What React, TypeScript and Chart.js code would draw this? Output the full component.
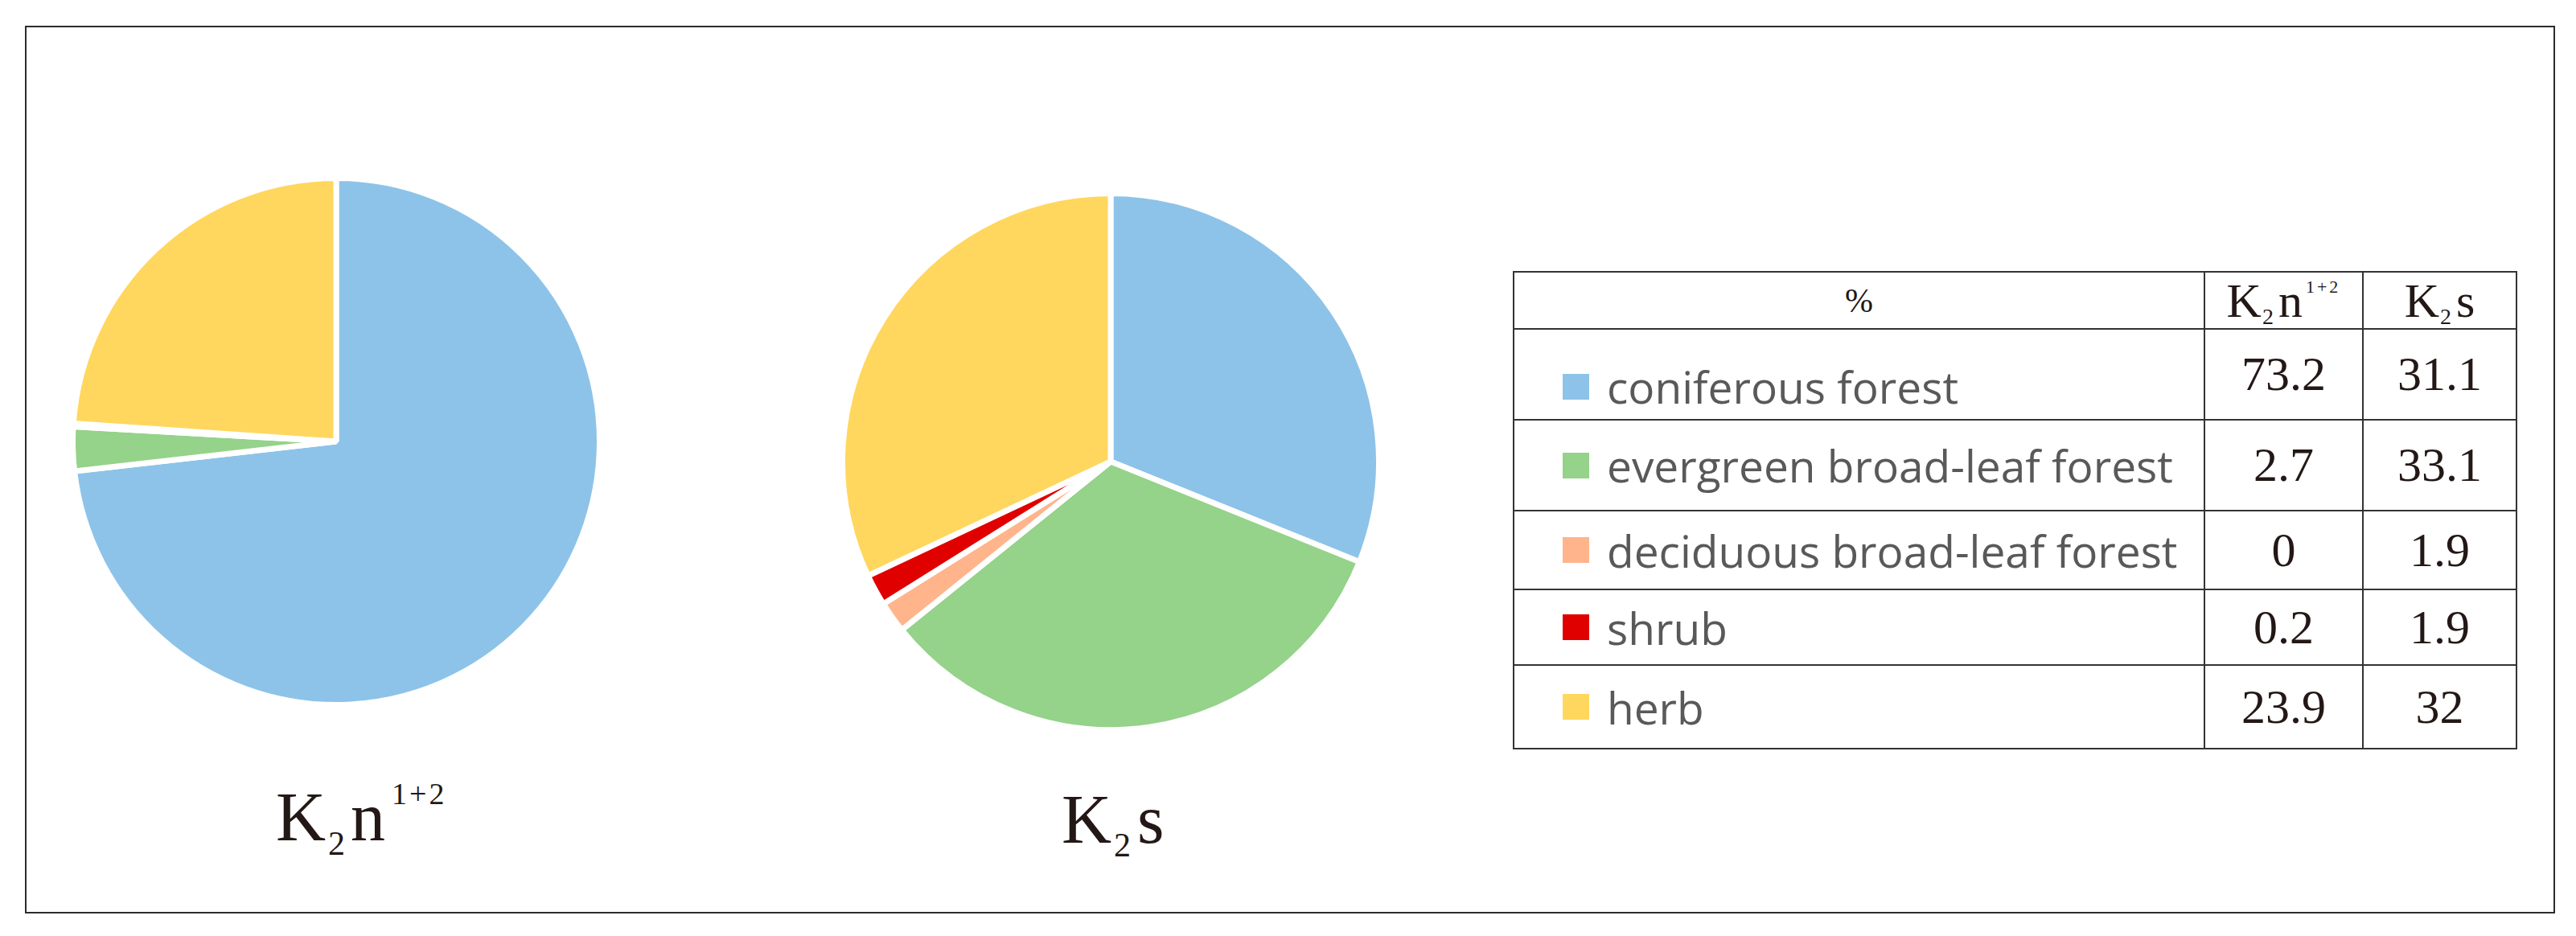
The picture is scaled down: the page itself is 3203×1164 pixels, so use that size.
import React, { useEffect, useRef } from "react";
import { Chart, registerables } from "chart.js";

Chart.register(...registerables);

const categories = [
  "coniferous forest",
  "evergreen broad-leaf forest",
  "deciduous broad-leaf forest",
  "shrub",
  "herb",
];
const k2nValues = [73.2, 2.7, 0, 0.2, 23.9];
const k2sValues = [31.1, 33.1, 1.9, 1.9, 32];
const sliceColors = ["#8DC3E8", "#95D28A", "#FFB48C", "#E00000", "#FFD75E"];

const serif = '"Liberation Serif", "Times New Roman", serif';
const sans = '"Open Sans", "Noto Sans", sans-serif';
const ink = "#231815";

function PieChart({ values, cx, cy, r }: { values: number[]; cx: number; cy: number; r: number }) {
  const ref = useRef<HTMLCanvasElement>(null);
  const size = Math.round(2 * r);
  useEffect(() => {
    const chart = new Chart(ref.current as HTMLCanvasElement, {
      type: "pie",
      data: {
        labels: categories,
        datasets: [
          {
            data: values,
            backgroundColor: sliceColors,
            borderColor: "#ffffff",
            borderWidth: 7,
          },
        ],
      },
      options: {
        responsive: false,
        animation: false,
        layout: { padding: 0 },
        plugins: { legend: { display: false }, tooltip: { enabled: false } },
      },
    });
    return () => chart.destroy();
  }, []);
  return (
    <canvas
      ref={ref}
      width={size}
      height={size}
      style={{ position: "absolute", left: cx - size / 2, top: cy - size / 2, width: size, height: size }}
    />
  );
}

function Formation({ sup, letter, fs, subFs, supFs, subTop, supTop, gaps }: any) {
  return (
    <span style={{ fontFamily: serif, color: ink, fontSize: fs, lineHeight: 1, whiteSpace: "nowrap" }}>
      K
      <span style={{ fontSize: subFs, position: "relative", top: subTop, marginLeft: gaps[0] }}>2</span>
      <span style={{ marginLeft: gaps[1] }}>{letter}</span>
      {sup ? (
        <span
          style={{ fontSize: supFs, position: "relative", top: supTop, marginLeft: gaps[2], letterSpacing: gaps[3] }}
        >
          {sup}
        </span>
      ) : null}
    </span>
  );
}

const rowHeights = [113, 113, 98, 94, 104];

export default function App() {
  const line = "2px solid #333333";
  return (
    <div style={{ position: "absolute", left: 0, top: 0, width: 3203, height: 1164, background: "#fff", overflow: "hidden" }}>
      <div
        style={{
          position: "absolute",
          left: 31,
          top: 32,
          width: 3146,
          height: 1104,
          border: "2px solid #2f2b2b",
          boxSizing: "border-box",
        }}
      />
      <PieChart values={k2nValues} cx={418} cy={549} r={331} />
      <PieChart values={k2sValues} cx={1381} cy={574} r={337} />

      <div style={{ position: "absolute", left: 343, top: 973 }}>
        <Formation letter="n" sup="1+2" fs={86} subFs={42} supFs={38} subTop={18} supTop={-45} gaps={[3, 7, 8, 3]} />
      </div>
      <div style={{ position: "absolute", left: 1320, top: 976 }}>
        <Formation letter="s" fs={86} subFs={42} subTop={17} gaps={[3, 8]} />
      </div>

      <table
        style={{
          position: "absolute",
          left: 1881,
          top: 337,
          width: 1247,
          borderCollapse: "collapse",
          tableLayout: "fixed",
        }}
      >
        <colgroup>
          <col style={{ width: 859 }} />
          <col style={{ width: 197 }} />
          <col style={{ width: 191 }} />
        </colgroup>
        <tbody>
          <tr style={{ height: 71 }}>
            <td style={{ border: line, padding: 0, textAlign: "center", fontFamily: serif, fontSize: 42, color: ink }}>%</td>
            <td style={{ border: line, padding: 0, textAlign: "center" }}>
              <Formation letter="n" sup="1+2" fs={60} subFs={28} supFs={22} subTop={9} supTop={-30} gaps={[1, 6, 4, 3]} />
            </td>
            <td style={{ border: line, padding: 0, textAlign: "center" }}>
              <Formation letter="s" fs={60} subFs={28} subTop={9} gaps={[1, 6]} />
            </td>
          </tr>
          {categories.map((c, i) => (
            <tr key={c} style={{ height: rowHeights[i] }}>
              <td style={{ border: line, padding: 0, paddingLeft: 60, paddingTop: i === 0 ? 30 : 0 }}>
                <span
                  style={{
                    display: "inline-block",
                    width: 33,
                    height: 32,
                    background: sliceColors[i],
                    verticalAlign: "middle",
                    marginRight: 22,
                  }}
                />
                <span style={{ fontFamily: sans, fontSize: 55, color: "#595959", verticalAlign: "middle", lineHeight: 1 }}>
                  {c}
                </span>
              </td>
              <td style={{ border: line, padding: 0, textAlign: "center", fontFamily: serif, fontSize: 60, color: ink }}>
                {String(k2nValues[i])}
              </td>
              <td style={{ border: line, padding: 0, textAlign: "center", fontFamily: serif, fontSize: 60, color: ink }}>
                {String(k2sValues[i])}
              </td>
            </tr>
          ))}
        </tbody>
      </table>
    </div>
  );
}
